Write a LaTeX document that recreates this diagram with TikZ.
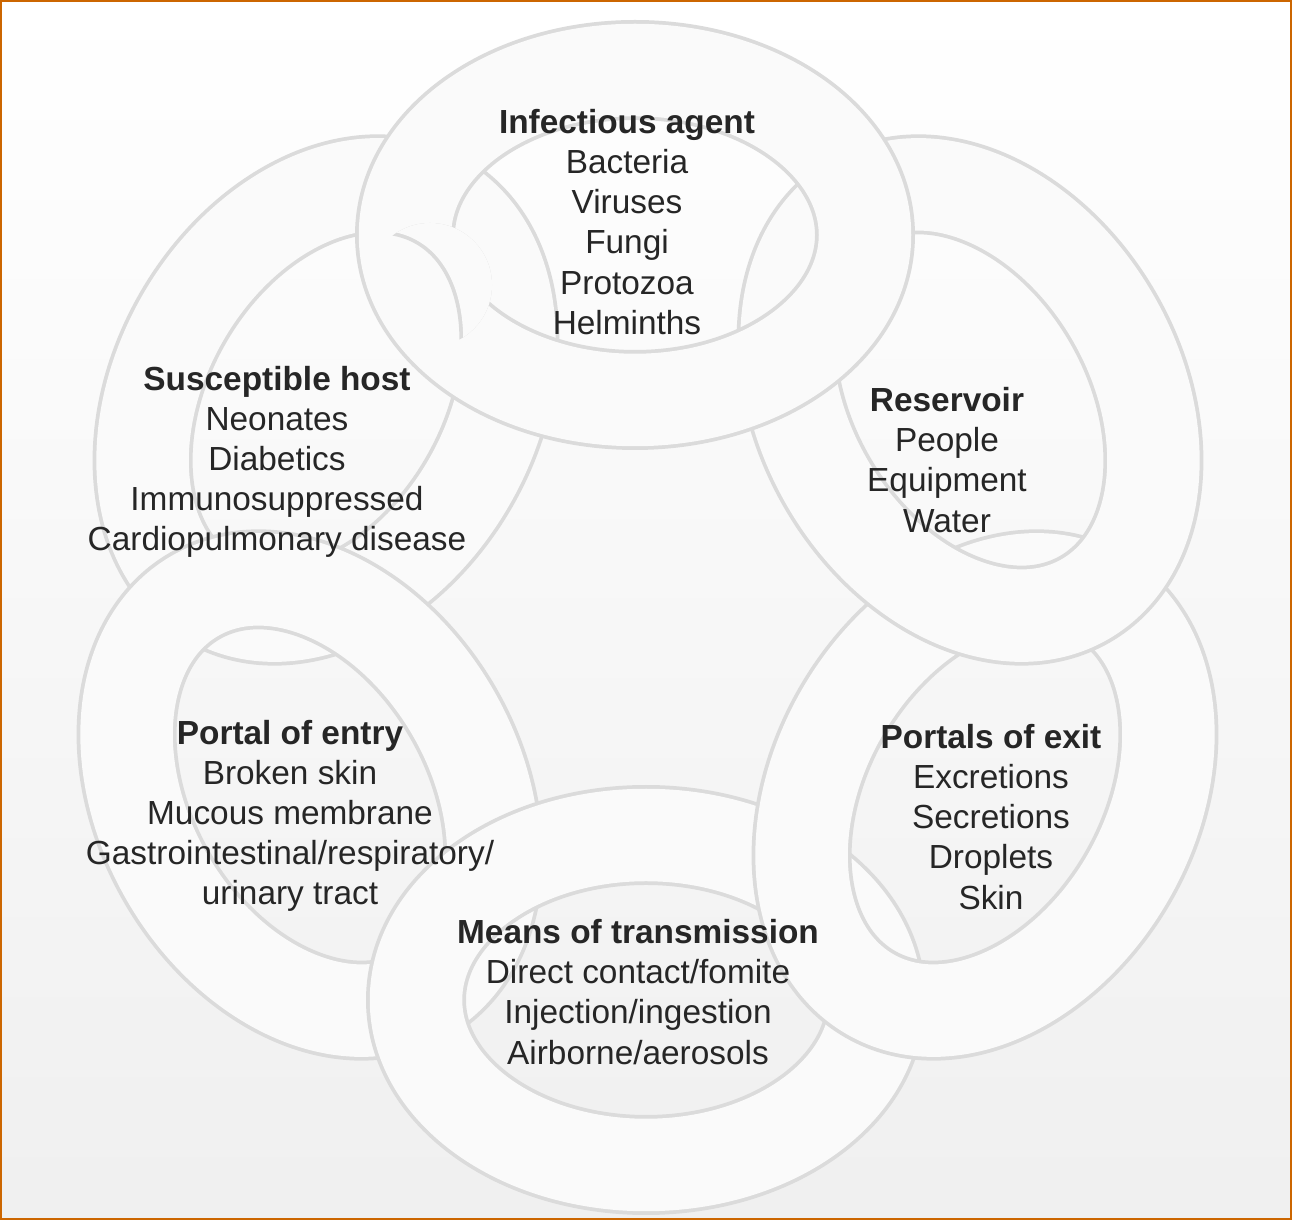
\documentclass[tikz,border=0pt]{standalone}
\usepackage{fontspec}
\setmainfont{Liberation Sans}
\begin{document}
\begin{tikzpicture}[x=0.02cm,y=0.02cm,
  lbl/.style={align=center,font=\fontsize{19}{22.8}\selectfont,text=black!85},
  linkout/.style={draw=gray!28,line width=2.0cm},
  linkin/.style={draw=gray!4,line width=1.85cm}]
\useasboundingbox (0,0) rectangle (1292,1220);
\shade[top color=white,bottom color=gray!12] (0,0) rectangle (1292,1220);
\def\lnk#1#2#3{%
  \draw[linkout,rotate around={#3:(#1,#2)}] (#1,#2) ellipse [x radius=230,y radius=165];
  \draw[linkin,rotate around={#3:(#1,#2)}] (#1,#2) ellipse [x radius=230,y radius=165];}
\lnk{326}{820}{60}
\lnk{310}{425}{-60}
\lnk{646}{220}{0}
\lnk{985}{425}{60}
\lnk{970}{820}{-60}
\lnk{635}{985}{0}
\begin{scope}
\clip (430,935) circle [radius=62];
\lnk{326}{820}{60}
\end{scope}
\node[lbl] (agent) at (627,998) {\textbf{Infectious agent}\\Bacteria\\Viruses\\Fungi\\Protozoa\\Helminths};
\node[lbl] (res) at (947,760) {\textbf{Reservoir}\\People\\Equipment\\Water};
\node[lbl] (exit) at (991,403) {\textbf{Portals of exit}\\Excretions\\Secretions\\Droplets\\Skin};
\node[lbl] (means) at (638,228) {\textbf{Means of transmission}\\Direct contact/fomite\\Injection/ingestion\\Airborne/aerosols};
\node[lbl] (entry) at (290,404) {\textbf{Portal of entry}\\Broken skin\\Mucous membrane\\Gastrointestinal/respiratory/\\urinary tract};
\node[lbl] (host) at (277,758) {\textbf{Susceptible host}\\Neonates\\Diabetics\\Immunosuppressed\\Cardiopulmonary disease};
\draw[draw=orange!80!black,line width=1.5pt] (1,1) rectangle (1291,1219);
\end{tikzpicture}
\end{document}
